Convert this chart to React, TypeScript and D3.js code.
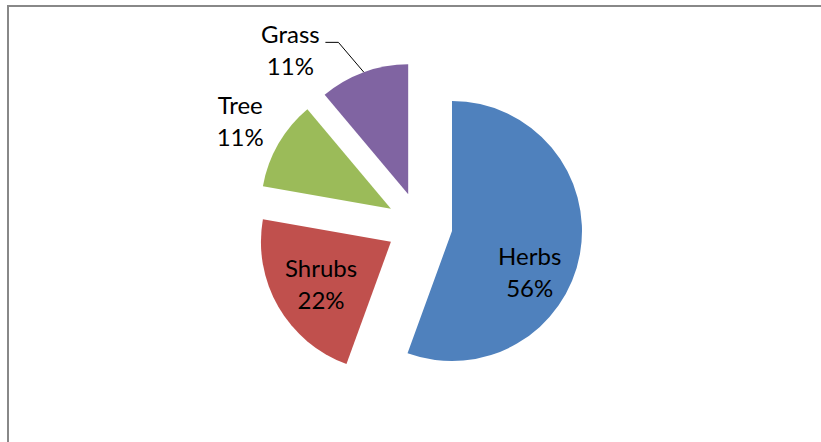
import React from "react";
import * as d3 from "d3";

// Vegetation composition
const categories = ["Herbs", "Shrubs", "Tree", "Grass"];
const counts = [5, 2, 1, 1];
const sliceColors = ["#4F81BD", "#C0504D", "#9BBB59", "#8064A2"];

const W = 821;
const H = 442;
const CX = 419.5;
const CY = 225.3;
const R = 130;
const EXPLODE = 33;

// Label placement relative to each slice's own apex: angle shift from mid-angle (deg) and distance
const labelTurn = [18, -1.6, 0, -19.3];
const labelDist = [88, 82, 174, 186];

const FONT = "Lato, 'Open Sans', sans-serif";
const FONT_SIZE = 24;

const polar = (angle: number, dist: number): [number, number] => [
  Math.sin(angle) * dist,
  -Math.cos(angle) * dist,
];

export default function App() {
  const total = d3.sum(counts);
  const pie = d3
    .pie<number>()
    .sort(null)
    .value((d) => d)
    .startAngle(0)
    .endAngle(2 * Math.PI);
  const arcs = pie(counts);
  const arc = d3.arc<d3.PieArcDatum<number>>().innerRadius(0).outerRadius(R);
  const pct = d3.format(".0%");

  return (
    <svg
      width={W}
      height={H}
      style={{ position: "absolute", left: 0, top: 0, background: "#fff" }}
    >
      <rect x={8} y={6} width={W + 20} height={H + 20} fill="#fff" stroke="#888" strokeWidth={2} />
      {arcs.map((a, i) => {
        const mid = (a.startAngle + a.endAngle) / 2;
        const [ox, oy] = polar(mid, EXPLODE);
        const ax = CX + ox;
        const ay = CY + oy;
        const [lx, ly] = polar(mid + (labelTurn[i] * Math.PI) / 180, labelDist[i]);
        const tx = ax + lx;
        const ty = ay + ly;
        const withLeader = categories[i] === "Grass";
        const [ex, ey] = polar(mid, R);
        return (
          <g key={categories[i]}>
            <path d={arc(a) || ""} transform={`translate(${ax},${ay})`} fill={sliceColors[i]} />
            {withLeader && (
              <polyline
                points={`${tx + 35},${ty - 8} ${tx + 48},${ty - 8} ${ax + ex},${ay + ey}`}
                fill="none"
                stroke="#000"
                strokeWidth={1}
              />
            )}
            <text x={tx} y={ty} textAnchor="middle" fontFamily={FONT} fontSize={FONT_SIZE} fill="#000">
              <tspan x={tx} y={ty - 7.5}>
                {categories[i]}
              </tspan>
              <tspan x={tx} y={ty + 24.5}>
                {pct(counts[i] / total)}
              </tspan>
            </text>
          </g>
        );
      })}
    </svg>
  );
}
